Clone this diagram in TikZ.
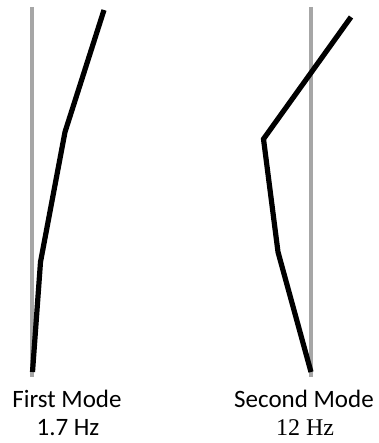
\documentclass[tikz,border=0pt]{standalone}
\usepackage{fontspec}
\setmainfont{Carlito}
\newfontfamily\hzserif{Liberation Serif}
\usetikzlibrary{positioning}
\definecolor{axisGray}{HTML}{A6A6A6}

\tikzset{
  axisline/.style={draw=axisGray, line width=3.2pt},
  modeline/.style={black, line width=5.2pt, line join=miter},
  modelabel/.style={font=\fontsize{25}{28}\selectfont, anchor=base, inner sep=0pt}
}

\begin{document}
\begin{tikzpicture}[x=1pt, y=-1pt]
  \useasboundingbox (0,0) rectangle (378,443);

  % Reference axes
  \coordinate (lTop) at (32,7);
  \coordinate (lBot) at (32,377);
  \coordinate (rTop) at (311,7);
  \coordinate (rBot) at (311,377);
  \path[axisline] (lTop) -- (lBot);
  \path[axisline] (rTop) -- (rBot);

  % First mode shape
  \coordinate (f0) at (32.5,372);
  \coordinate (f1) at (40.5,262);
  \coordinate (f2) at (65,132);
  \coordinate (f3) at (104,10);
  \draw[modeline] (f0) -- (f1) -- (f2) -- (f3);

  % Second mode shape
  \coordinate (s0) at (311,372);
  \coordinate (s1) at (278,252);
  \coordinate (s2) at (263.5,139);
  \coordinate (s3) at (351,17);
  \draw[modeline] (s0) -- (s1) -- (s2) -- (s3);

  % Labels
  \node[modelabel] (firstName) at (67,407) {First Mode};
  \node[modelabel] (firstFreq) at (68,435) {1.7 Hz};
  \node[modelabel] (secondName) at (304,407) {Second Mode};
  \node[modelabel, font=\hzserif\fontsize{24}{28}\selectfont] (secondFreq) at (305,435) {12 Hz};
\end{tikzpicture}
\end{document}
